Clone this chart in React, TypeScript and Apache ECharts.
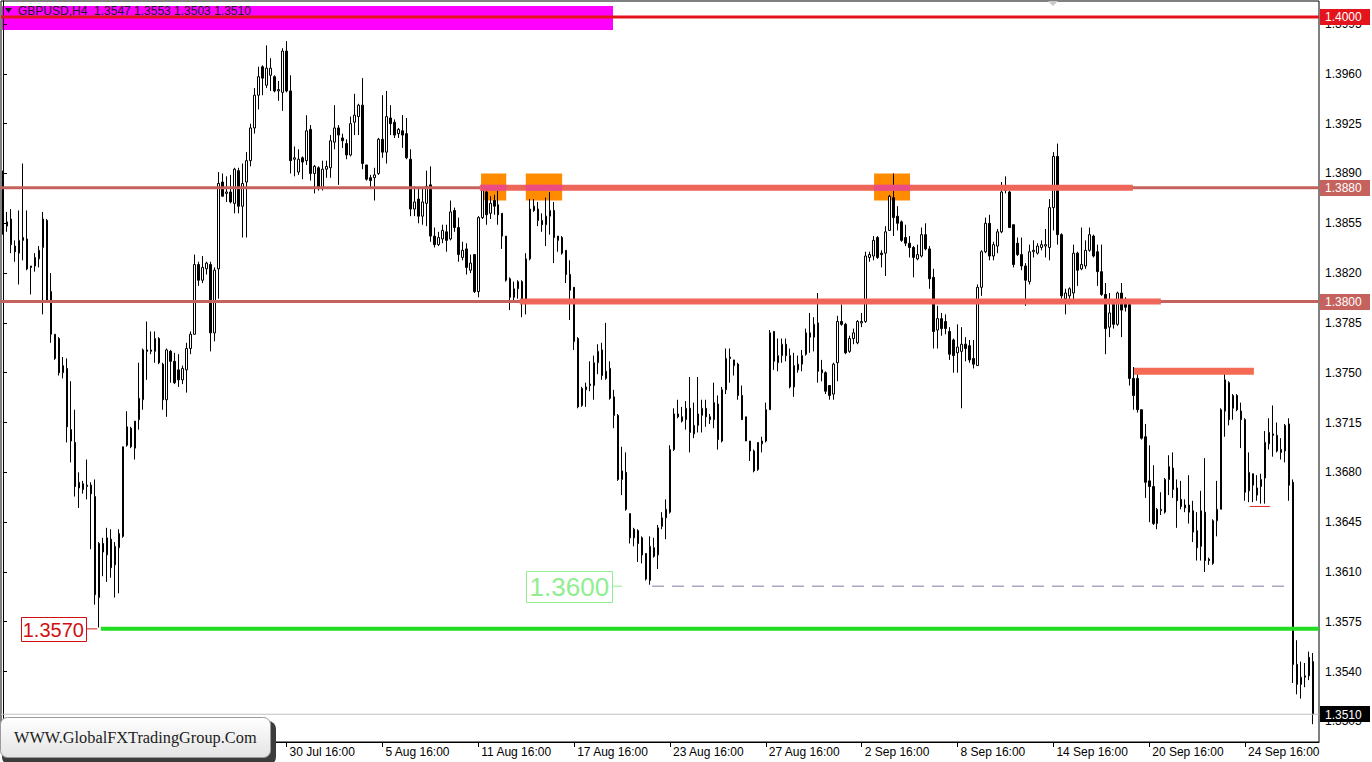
import React, { useEffect, useRef } from 'react';
import * as echarts from 'echarts';

const FONT = '"Liberation Sans", Arial, sans-serif';
const SYMBOL = 'GBPUSD,H4';
const START_UTC = Date.UTC(2021, 6, 14, 20);
const BAR_HOURS = 4;
const MONTHS = ['Jan', 'Feb', 'Mar', 'Apr', 'May', 'Jun', 'Jul', 'Aug', 'Sep', 'Oct', 'Nov', 'Dec'];

// [open, high, low, close]
const ohlc: number[][] = [
  [1.3885, 1.3892, 1.3847, 1.3853], [1.3853, 1.3863, 1.3849, 1.3856], [1.3858, 1.3865, 1.3834, 1.3840], [1.3839, 1.3843, 1.3828, 1.3835],
  [1.3834, 1.3864, 1.3812, 1.3843], [1.3845, 1.3897, 1.3829, 1.3843], [1.3844, 1.3864, 1.3822, 1.3823], [1.3825, 1.3825, 1.3805, 1.3824],
  [1.3825, 1.3834, 1.3821, 1.3831], [1.3830, 1.3839, 1.3824, 1.3836], [1.3838, 1.3863, 1.3791, 1.3858], [1.3857, 1.3858, 1.3799, 1.3800],
  [1.3807, 1.3820, 1.3771, 1.3777], [1.3777, 1.3777, 1.3759, 1.3760], [1.3774, 1.3775, 1.3748, 1.3750], [1.3750, 1.3761, 1.3746, 1.3755],
  [1.3753, 1.3760, 1.3701, 1.3712], [1.3710, 1.3744, 1.3687, 1.3702], [1.3701, 1.3724, 1.3663, 1.3670], [1.3669, 1.3680, 1.3655, 1.3673],
  [1.3672, 1.3674, 1.3665, 1.3668], [1.3670, 1.3689, 1.3661, 1.3671], [1.3671, 1.3673, 1.3626, 1.3665], [1.3663, 1.3675, 1.3587, 1.3594],
  [1.3592, 1.3631, 1.3571, 1.3630], [1.3630, 1.3634, 1.3607, 1.3624], [1.3622, 1.3641, 1.3603, 1.3634], [1.3633, 1.3640, 1.3606, 1.3613],
  [1.3615, 1.3631, 1.3592, 1.3628], [1.3627, 1.3640, 1.3595, 1.3637], [1.3635, 1.3698, 1.3634, 1.3698], [1.3699, 1.3723, 1.3698, 1.3712],
  [1.3711, 1.3712, 1.3697, 1.3698], [1.3697, 1.3716, 1.3689, 1.3716], [1.3717, 1.3757, 1.3710, 1.3732], [1.3731, 1.3767, 1.3724, 1.3766],
  [1.3766, 1.3786, 1.3745, 1.3765], [1.3765, 1.3779, 1.3763, 1.3766], [1.3765, 1.3779, 1.3757, 1.3774], [1.3774, 1.3775, 1.3756, 1.3757],
  [1.3756, 1.3757, 1.3724, 1.3731], [1.3731, 1.3767, 1.3719, 1.3766], [1.3765, 1.3766, 1.3743, 1.3758], [1.3758, 1.3764, 1.3742, 1.3743],
  [1.3752, 1.3763, 1.3740, 1.3745], [1.3745, 1.3755, 1.3742, 1.3753], [1.3752, 1.3771, 1.3736, 1.3767], [1.3767, 1.3779, 1.3763, 1.3777],
  [1.3777, 1.3833, 1.3777, 1.3826], [1.3826, 1.3828, 1.3811, 1.3815], [1.3815, 1.3832, 1.3813, 1.3824], [1.3823, 1.3828, 1.3819, 1.3827],
  [1.3826, 1.3828, 1.3765, 1.3778], [1.3778, 1.3824, 1.3772, 1.3822], [1.3823, 1.3891, 1.3802, 1.3883], [1.3884, 1.3890, 1.3874, 1.3874],
  [1.3876, 1.3888, 1.3870, 1.3877], [1.3877, 1.3889, 1.3869, 1.3870], [1.3869, 1.3894, 1.3862, 1.3893], [1.3892, 1.3894, 1.3862, 1.3867],
  [1.3867, 1.3897, 1.3845, 1.3883], [1.3884, 1.3905, 1.3845, 1.3899], [1.3899, 1.3925, 1.3895, 1.3922], [1.3922, 1.3950, 1.3918, 1.3945],
  [1.3945, 1.3965, 1.3935, 1.3958], [1.3965, 1.3966, 1.3945, 1.3957], [1.3952, 1.3980, 1.3950, 1.3964], [1.3959, 1.3971, 1.3948, 1.3964],
  [1.3958, 1.3959, 1.3947, 1.3948], [1.3948, 1.3955, 1.3941, 1.3949], [1.3947, 1.3978, 1.3934, 1.3976], [1.3976, 1.3983, 1.3947, 1.3948],
  [1.3948, 1.3959, 1.3890, 1.3899], [1.3900, 1.3909, 1.3888, 1.3901], [1.3891, 1.3907, 1.3889, 1.3900], [1.3901, 1.3902, 1.3886, 1.3898],
  [1.3899, 1.3931, 1.3896, 1.3920], [1.3921, 1.3924, 1.3885, 1.3890], [1.3890, 1.3896, 1.3876, 1.3895], [1.3894, 1.3895, 1.3878, 1.3880],
  [1.3880, 1.3899, 1.3878, 1.3893], [1.3893, 1.3899, 1.3887, 1.3895], [1.3894, 1.3917, 1.3887, 1.3913], [1.3912, 1.3938, 1.3907, 1.3922],
  [1.3922, 1.3924, 1.3882, 1.3917], [1.3915, 1.3918, 1.3908, 1.3913], [1.3911, 1.3914, 1.3900, 1.3903], [1.3903, 1.3930, 1.3902, 1.3925],
  [1.3926, 1.3946, 1.3917, 1.3931], [1.3930, 1.3939, 1.3917, 1.3938], [1.3938, 1.3957, 1.3893, 1.3897], [1.3896, 1.3896, 1.3885, 1.3886],
  [1.3887, 1.3889, 1.3880, 1.3885], [1.3887, 1.3894, 1.3871, 1.3889], [1.3890, 1.3915, 1.3889, 1.3914], [1.3914, 1.3945, 1.3901, 1.3905],
  [1.3905, 1.3948, 1.3897, 1.3930], [1.3929, 1.3938, 1.3917, 1.3925], [1.3926, 1.3928, 1.3915, 1.3917], [1.3918, 1.3922, 1.3915, 1.3921],
  [1.3920, 1.3931, 1.3908, 1.3917], [1.3918, 1.3929, 1.3900, 1.3901], [1.3900, 1.3907, 1.3860, 1.3865], [1.3865, 1.3881, 1.3860, 1.3870],
  [1.3872, 1.3880, 1.3855, 1.3860], [1.3860, 1.3880, 1.3854, 1.3870], [1.3869, 1.3892, 1.3853, 1.3881], [1.3882, 1.3895, 1.3842, 1.3846],
  [1.3846, 1.3852, 1.3838, 1.3840], [1.3840, 1.3849, 1.3839, 1.3845], [1.3844, 1.3854, 1.3841, 1.3850], [1.3849, 1.3854, 1.3835, 1.3843],
  [1.3844, 1.3871, 1.3843, 1.3863], [1.3864, 1.3866, 1.3849, 1.3852], [1.3852, 1.3859, 1.3828, 1.3833], [1.3831, 1.3842, 1.3829, 1.3836],
  [1.3837, 1.3841, 1.3819, 1.3824], [1.3822, 1.3833, 1.3820, 1.3827], [1.3833, 1.3833, 1.3806, 1.3807], [1.3807, 1.3860, 1.3803, 1.3859],
  [1.3859, 1.3880, 1.3858, 1.3878], [1.3877, 1.3879, 1.3854, 1.3861], [1.3862, 1.3874, 1.3858, 1.3869], [1.3871, 1.3875, 1.3861, 1.3867],
  [1.3868, 1.3880, 1.3854, 1.3861], [1.3862, 1.3862, 1.3837, 1.3846], [1.3846, 1.3846, 1.3814, 1.3815], [1.3816, 1.3817, 1.3794, 1.3803],
  [1.3803, 1.3814, 1.3800, 1.3809], [1.3809, 1.3815, 1.3802, 1.3814], [1.3814, 1.3815, 1.3789, 1.3800], [1.3800, 1.3834, 1.3791, 1.3830],
  [1.3830, 1.3872, 1.3829, 1.3865], [1.3867, 1.3872, 1.3863, 1.3864], [1.3865, 1.3870, 1.3853, 1.3857], [1.3857, 1.3862, 1.3849, 1.3854],
  [1.3854, 1.3873, 1.3839, 1.3860], [1.3860, 1.3877, 1.3847, 1.3864], [1.3864, 1.3870, 1.3827, 1.3845], [1.3846, 1.3846, 1.3835, 1.3843],
  [1.3845, 1.3846, 1.3833, 1.3834], [1.3836, 1.3836, 1.3813, 1.3819], [1.3819, 1.3829, 1.3787, 1.3808], [1.3810, 1.3810, 1.3766, 1.3772],
  [1.3774, 1.3775, 1.3725, 1.3726], [1.3727, 1.3740, 1.3726, 1.3739], [1.3738, 1.3743, 1.3726, 1.3740], [1.3741, 1.3758, 1.3737, 1.3742],
  [1.3741, 1.3762, 1.3731, 1.3757], [1.3757, 1.3770, 1.3749, 1.3765], [1.3766, 1.3771, 1.3745, 1.3748], [1.3746, 1.3785, 1.3745, 1.3751],
  [1.3753, 1.3758, 1.3731, 1.3732], [1.3733, 1.3738, 1.3711, 1.3720], [1.3720, 1.3721, 1.3674, 1.3675], [1.3675, 1.3698, 1.3664, 1.3681],
  [1.3680, 1.3694, 1.3653, 1.3654], [1.3651, 1.3651, 1.3630, 1.3634], [1.3634, 1.3641, 1.3628, 1.3640], [1.3639, 1.3640, 1.3617, 1.3630],
  [1.3634, 1.3635, 1.3616, 1.3622], [1.3623, 1.3623, 1.3604, 1.3605], [1.3604, 1.3635, 1.3601, 1.3628], [1.3627, 1.3634, 1.3620, 1.3621],
  [1.3622, 1.3643, 1.3612, 1.3641], [1.3642, 1.3652, 1.3640, 1.3648], [1.3648, 1.3661, 1.3633, 1.3654], [1.3652, 1.3699, 1.3651, 1.3696],
  [1.3696, 1.3725, 1.3695, 1.3721], [1.3721, 1.3731, 1.3718, 1.3719], [1.3719, 1.3726, 1.3715, 1.3716], [1.3717, 1.3730, 1.3710, 1.3725],
  [1.3725, 1.3747, 1.3694, 1.3708], [1.3707, 1.3729, 1.3704, 1.3713], [1.3713, 1.3747, 1.3708, 1.3721], [1.3720, 1.3731, 1.3708, 1.3725],
  [1.3725, 1.3731, 1.3712, 1.3719], [1.3719, 1.3721, 1.3714, 1.3717], [1.3717, 1.3743, 1.3711, 1.3729], [1.3728, 1.3734, 1.3696, 1.3703],
  [1.3702, 1.3740, 1.3701, 1.3738], [1.3738, 1.3767, 1.3735, 1.3760], [1.3760, 1.3767, 1.3743, 1.3761], [1.3759, 1.3759, 1.3748, 1.3755],
  [1.3756, 1.3757, 1.3731, 1.3734], [1.3734, 1.3741, 1.3717, 1.3717], [1.3719, 1.3719, 1.3702, 1.3702], [1.3702, 1.3702, 1.3688, 1.3695],
  [1.3695, 1.3696, 1.3680, 1.3681], [1.3682, 1.3701, 1.3681, 1.3701], [1.3700, 1.3705, 1.3694, 1.3702], [1.3702, 1.3729, 1.3701, 1.3724],
  [1.3724, 1.3780, 1.3724, 1.3778], [1.3779, 1.3779, 1.3752, 1.3758], [1.3757, 1.3774, 1.3751, 1.3762], [1.3762, 1.3774, 1.3757, 1.3770],
  [1.3770, 1.3774, 1.3758, 1.3762], [1.3762, 1.3767, 1.3739, 1.3740], [1.3740, 1.3764, 1.3733, 1.3755], [1.3752, 1.3762, 1.3750, 1.3756],
  [1.3756, 1.3766, 1.3751, 1.3762], [1.3763, 1.3781, 1.3762, 1.3778], [1.3778, 1.3792, 1.3764, 1.3775], [1.3775, 1.3789, 1.3765, 1.3784],
  [1.3785, 1.3806, 1.3743, 1.3751], [1.3752, 1.3759, 1.3744, 1.3750], [1.3750, 1.3751, 1.3735, 1.3737], [1.3741, 1.3741, 1.3731, 1.3734],
  [1.3735, 1.3757, 1.3731, 1.3756], [1.3757, 1.3790, 1.3744, 1.3786], [1.3786, 1.3798, 1.3783, 1.3784], [1.3784, 1.3785, 1.3763, 1.3764],
  [1.3765, 1.3776, 1.3764, 1.3774], [1.3774, 1.3781, 1.3770, 1.3778], [1.3771, 1.3787, 1.3770, 1.3786], [1.3785, 1.3792, 1.3782, 1.3786],
  [1.3786, 1.3835, 1.3785, 1.3832], [1.3831, 1.3835, 1.3828, 1.3833], [1.3832, 1.3846, 1.3829, 1.3843], [1.3845, 1.3846, 1.3830, 1.3831],
  [1.3834, 1.3836, 1.3824, 1.3833], [1.3834, 1.3853, 1.3818, 1.3849], [1.3850, 1.3875, 1.3850, 1.3874], [1.3873, 1.3890, 1.3846, 1.3859],
  [1.3860, 1.3867, 1.3850, 1.3855], [1.3856, 1.3857, 1.3842, 1.3843], [1.3845, 1.3854, 1.3839, 1.3841], [1.3841, 1.3846, 1.3831, 1.3838],
  [1.3838, 1.3839, 1.3817, 1.3831], [1.3830, 1.3840, 1.3829, 1.3833], [1.3832, 1.3852, 1.3831, 1.3847], [1.3847, 1.3855, 1.3836, 1.3837],
  [1.3837, 1.3839, 1.3809, 1.3816], [1.3817, 1.3823, 1.3767, 1.3779], [1.3780, 1.3797, 1.3767, 1.3788], [1.3788, 1.3792, 1.3776, 1.3781],
  [1.3786, 1.3791, 1.3777, 1.3781], [1.3779, 1.3782, 1.3759, 1.3763], [1.3773, 1.3774, 1.3750, 1.3762], [1.3764, 1.3784, 1.3750, 1.3768],
  [1.3765, 1.3782, 1.3725, 1.3770], [1.3770, 1.3775, 1.3758, 1.3767], [1.3769, 1.3773, 1.3757, 1.3759], [1.3760, 1.3773, 1.3753, 1.3756],
  [1.3755, 1.3812, 1.3755, 1.3810], [1.3810, 1.3836, 1.3804, 1.3835], [1.3835, 1.3859, 1.3834, 1.3855], [1.3855, 1.3861, 1.3829, 1.3832],
  [1.3832, 1.3842, 1.3829, 1.3840], [1.3839, 1.3851, 1.3834, 1.3849], [1.3849, 1.3884, 1.3848, 1.3877], [1.3878, 1.3888, 1.3876, 1.3879],
  [1.3877, 1.3878, 1.3852, 1.3852], [1.3854, 1.3854, 1.3824, 1.3826], [1.3841, 1.3845, 1.3832, 1.3833], [1.3833, 1.3845, 1.3822, 1.3825],
  [1.3825, 1.3827, 1.3797, 1.3815], [1.3814, 1.3840, 1.3812, 1.3835], [1.3835, 1.3843, 1.3831, 1.3836], [1.3834, 1.3841, 1.3833, 1.3839],
  [1.3838, 1.3843, 1.3836, 1.3840], [1.3839, 1.3851, 1.3831, 1.3840], [1.3838, 1.3872, 1.3829, 1.3866], [1.3866, 1.3905, 1.3850, 1.3902],
  [1.3902, 1.3911, 1.3840, 1.3847], [1.3847, 1.3848, 1.3802, 1.3804], [1.3802, 1.3809, 1.3791, 1.3806], [1.3804, 1.3810, 1.3798, 1.3809],
  [1.3806, 1.3840, 1.3801, 1.3834], [1.3834, 1.3835, 1.3811, 1.3822], [1.3823, 1.3852, 1.3822, 1.3826], [1.3825, 1.3843, 1.3823, 1.3836],
  [1.3836, 1.3852, 1.3835, 1.3847], [1.3846, 1.3847, 1.3831, 1.3832], [1.3835, 1.3840, 1.3811, 1.3821], [1.3821, 1.3840, 1.3804, 1.3805],
  [1.3805, 1.3813, 1.3763, 1.3781], [1.3782, 1.3806, 1.3775, 1.3792], [1.3798, 1.3801, 1.3781, 1.3784], [1.3784, 1.3807, 1.3783, 1.3806],
  [1.3806, 1.3813, 1.3775, 1.3794], [1.3799, 1.3803, 1.3793, 1.3796], [1.3798, 1.3800, 1.3741, 1.3746], [1.3746, 1.3754, 1.3724, 1.3734],
  [1.3746, 1.3752, 1.3722, 1.3724], [1.3724, 1.3724, 1.3703, 1.3704], [1.3705, 1.3714, 1.3662, 1.3673], [1.3674, 1.3699, 1.3645, 1.3670],
  [1.3670, 1.3685, 1.3643, 1.3644], [1.3644, 1.3655, 1.3640, 1.3654], [1.3653, 1.3666, 1.3650, 1.3654], [1.3652, 1.3676, 1.3651, 1.3675],
  [1.3675, 1.3692, 1.3664, 1.3684], [1.3683, 1.3694, 1.3662, 1.3668], [1.3669, 1.3675, 1.3641, 1.3660], [1.3661, 1.3674, 1.3654, 1.3656],
  [1.3657, 1.3661, 1.3652, 1.3655], [1.3657, 1.3678, 1.3644, 1.3652], [1.3653, 1.3660, 1.3631, 1.3638], [1.3639, 1.3652, 1.3618, 1.3627],
  [1.3628, 1.3667, 1.3618, 1.3653], [1.3652, 1.3690, 1.3610, 1.3618], [1.3619, 1.3620, 1.3615, 1.3618], [1.3616, 1.3647, 1.3615, 1.3646],
  [1.3646, 1.3674, 1.3635, 1.3654], [1.3654, 1.3725, 1.3654, 1.3724], [1.3723, 1.3750, 1.3705, 1.3745], [1.3743, 1.3744, 1.3713, 1.3717],
  [1.3725, 1.3735, 1.3717, 1.3734], [1.3734, 1.3735, 1.3723, 1.3724], [1.3723, 1.3729, 1.3697, 1.3717], [1.3717, 1.3718, 1.3660, 1.3666],
  [1.3667, 1.3694, 1.3659, 1.3680], [1.3679, 1.3679, 1.3659, 1.3671], [1.3664, 1.3678, 1.3660, 1.3669], [1.3670, 1.3679, 1.3658, 1.3675],
  [1.3676, 1.3709, 1.3658, 1.3701], [1.3700, 1.3718, 1.3696, 1.3708], [1.3707, 1.3727, 1.3691, 1.3706], [1.3706, 1.3715, 1.3694, 1.3695],
  [1.3696, 1.3704, 1.3689, 1.3694], [1.3695, 1.3714, 1.3687, 1.3713], [1.3714, 1.3718, 1.3660, 1.3671], [1.3673, 1.3675, 1.3532, 1.3545],
  [1.3545, 1.3562, 1.3524, 1.3531], [1.3531, 1.3547, 1.3521, 1.3536], [1.3536, 1.3546, 1.3529, 1.3537], [1.3537, 1.3554, 1.3534, 1.3550],
  [1.3547, 1.3553, 1.3503, 1.3510],
];

const xTickLabels = [
  '30 Jul 16:00', '5 Aug 16:00', '11 Aug 16:00', '17 Aug 16:00', '23 Aug 16:00', '27 Aug 16:00',
  '2 Sep 16:00', '8 Sep 16:00', '14 Sep 16:00', '20 Sep 16:00', '24 Sep 16:00',
];

const yTicks = [1.3505, 1.3540, 1.3575, 1.3610, 1.3645, 1.3680, 1.3715, 1.3750, 1.3785, 1.3820, 1.3855, 1.3890, 1.3925, 1.3960, 1.3995];

// full-width horizontal levels with price tags on the axis
const levelPrices = [1.4000, 1.3880, 1.3800, 1.3510];
const levelKinds = ['resistance', 'level', 'level', 'bid'];

// highlighted zones: [fromBar, toBar, topPrice, bottomPrice]
const zones = [
  [119.7, 126.0, 1.3890, 1.3871],
  [130.9, 140.0, 1.3890, 1.3871],
  [218.1, 227.1, 1.3890, 1.3871],
];

// segments: [fromBar, toBar, price]
const segments = [
  [119.4, 282.9, 1.3880],
  [129.4, 289.9, 1.3800],
  [283.2, 313.2, 1.3751],
  [119.7, 126.0, 1.3880],
  [130.9, 140.0, 1.3880],
  [218.1, 227.1, 1.3880],
  [24.5, 329.5, 1.3570],
  [162.5, 322.2, 1.3600],
  [312.2, 317.2, 1.3656],
  [20.8, 23.6, 1.3570],
  [152.5, 155.0, 1.3600],
];
const segmentKinds = ['thick', 'thick', 'thick2', 'touch', 'touch', 'touch', 'support', 'target', 'mark', 'lead1', 'lead2'];

// price callouts: [centerBar, price]
const callouts = [
  [12.6, 1.3570],
  [141.8, 1.3600],
];
const calloutText = ['1.3570', '1.3600'];

const LEVEL_STYLE: Record<string, any> = {
  resistance: { line: '#E3141C', width: 3, tag: '#E3141C' },
  level: { line: '#C6625E', width: 3, tag: '#C6625E' },
  bid: { line: '#C0C0C0', width: 1, tag: '#000000' },
};
const SEG_STYLE: Record<string, any> = {
  thick: { stroke: '#EE6659', lineWidth: 6 },
  thick2: { stroke: '#F56A55', lineWidth: 7 },
  touch: { stroke: '#EC4C82', lineWidth: 6 },
  support: { stroke: '#22DD22', lineWidth: 4 },
  target: { stroke: '#7C7CA8', lineWidth: 1, lineDash: [12, 8] },
  mark: { stroke: '#E02828', lineWidth: 1 },
  lead1: { stroke: '#C82020', lineWidth: 1 },
  lead2: { stroke: '#90EE90', lineWidth: 1 },
};
const CALLOUT_STYLE = [
  { color: '#D01010', w: 65, h: 24, size: 20 },
  { color: '#90EE90', w: 86, h: 31, size: 26 },
];
const TAG = { w: 50, h: 16, size: 12 };

function buildCategories(n: number): string[] {
  const out: string[] = [];
  let t = START_UTC;
  while (out.length < n) {
    const d = new Date(t);
    const wd = d.getUTCDay();
    if (wd !== 0 && wd !== 6) {
      out.push(`${d.getUTCDate()} ${MONTHS[d.getUTCMonth()]} ${String(d.getUTCHours()).padStart(2, '0')}:00`);
    }
    t += BAR_HOURS * 3600 * 1000;
  }
  return out;
}

export default function App() {
  const ref = useRef<HTMLDivElement>(null);

  useEffect(() => {
    if (!ref.current) return;
    const chart = echarts.init(ref.current, null, { renderer: 'svg' });
    const categories = buildCategories(ohlc.length + 1);
    const xMin = -0.5;
    const xMax = categories.length - 0.5;
    const tickSet = new Set(xTickLabels);
    const last = ohlc[ohlc.length - 1];
    const header = `${SYMBOL}  ${last.map((v) => v.toFixed(4)).join(' ')}`;
    const candleData = ohlc.map(([o, h, l, c]) => [o, c, Math.min(l, o, c), Math.max(h, o, c)]);

    const option: any = {
      animation: false,
      backgroundColor: '#ffffff',
      grid: {
        left: 1, top: 1, width: 1318, height: 741,
        show: true, borderColor: '#000', borderWidth: 1, backgroundColor: 'transparent',
        containLabel: false, outerBoundsMode: 'none',
      },
      xAxis: [
        {
          type: 'category',
          data: categories,
          boundaryGap: true,
          axisLine: { show: true, lineStyle: { color: '#000', width: 1 } },
          axisTick: {
            show: true, alignWithLabel: true, length: 5,
            interval: (_i: number, v: string) => tickSet.has(v),
            lineStyle: { color: '#000' },
          },
          axisLabel: {
            interval: (_i: number, v: string) => tickSet.has(v),
            align: 'left', color: '#000', fontSize: 12, fontFamily: FONT,
            margin: 4, padding: [0, 0, 0, 3],
          },
          splitLine: { show: false },
        },
        { type: 'value', min: xMin, max: xMax, show: false },
      ],
      yAxis: [
        {
          type: 'value', position: 'right', min: 1.34905, max: 1.40112, scale: true,
          splitLine: { show: false },
          axisLine: { show: true, lineStyle: { color: '#000', width: 1 } },
          axisTick: { show: true, customValues: yTicks, length: 4, lineStyle: { color: '#000' } },
          axisLabel: {
            customValues: yTicks, color: '#000', fontSize: 12, fontFamily: FONT, margin: 6,
            formatter: (v: number) => v.toFixed(4),
          },
        },
      ],
      series: [
        {
          type: 'custom', name: 'zones', xAxisIndex: 1, yAxisIndex: 0, z: 1, silent: true,
          data: zones.map((z) => [z[0], z[2], z[1], z[3]]),
          encode: { x: [0, 2], y: [1, 3] },
          renderItem: (params: any, api: any) => {
            const z = zones[params.dataIndex];
            const p1 = api.coord([z[0], z[2]]);
            const p2 = api.coord([z[1], z[3]]);
            return {
              type: 'rect',
              shape: { x: p1[0], y: p1[1], width: p2[0] - p1[0], height: p2[1] - p1[1] },
              style: { fill: '#FF8C00' },
            };
          },
        },
        {
          type: 'candlestick', name: SYMBOL, xAxisIndex: 0, yAxisIndex: 0, z: 2,
          data: candleData,
          barWidth: 2,
          itemStyle: {
            color: '#ffffff', color0: '#000000',
            borderColor: '#000000', borderColor0: '#000000', borderColorDoji: '#000000',
            borderWidth: 1,
          },
        },
        {
          type: 'custom', name: 'levels', xAxisIndex: 1, yAxisIndex: 0, z: 3, silent: true,
          data: levelPrices.map((p) => [xMin, p, xMax]),
          encode: { x: [0, 2], y: 1 },
          renderItem: (params: any, api: any) => {
            const p = levelPrices[params.dataIndex];
            const st = LEVEL_STYLE[levelKinds[params.dataIndex]];
            const a = api.coord([xMin, p]);
            const b = api.coord([xMax, p]);
            const tagX = Math.round(b[0]) + 1;
            const tagY = Math.round(b[1] - TAG.h / 2);
            return {
              type: 'group',
              children: [
                {
                  type: 'line',
                  shape: { x1: a[0], y1: a[1], x2: b[0], y2: b[1] },
                  style: { stroke: st.line, lineWidth: st.width },
                },
                {
                  type: 'rect', z2: 10,
                  shape: { x: tagX, y: tagY, width: TAG.w, height: TAG.h },
                  style: { fill: st.tag },
                },
                {
                  type: 'text', z2: 11,
                  style: {
                    text: p.toFixed(4), x: tagX + 5, y: b[1] + 0.5,
                    verticalAlign: 'middle', fill: '#ffffff', font: `${TAG.size}px ${FONT}`,
                  },
                },
              ],
            };
          },
        },
        {
          type: 'custom', name: 'segments', xAxisIndex: 1, yAxisIndex: 0, z: 4, silent: true,
          data: segments.map((s) => [s[0], s[2], s[1]]),
          encode: { x: [0, 2], y: 1 },
          renderItem: (params: any, api: any) => {
            const s = segments[params.dataIndex];
            const st = SEG_STYLE[segmentKinds[params.dataIndex]];
            const p1 = api.coord([s[0], s[2]]);
            const p2 = api.coord([s[1], s[2]]);
            return {
              type: 'line',
              shape: { x1: p1[0], y1: p1[1], x2: p2[0], y2: p2[1] },
              style: { stroke: st.stroke, lineWidth: st.lineWidth, lineDash: st.lineDash || null },
            };
          },
        },
        {
          type: 'custom', name: 'callouts', xAxisIndex: 1, yAxisIndex: 0, z: 5, silent: true,
          data: callouts.map((c) => [c[0], c[1]]),
          encode: { x: 0, y: 1 },
          renderItem: (params: any, api: any) => {
            const c = callouts[params.dataIndex];
            const st = CALLOUT_STYLE[params.dataIndex];
            const p = api.coord([c[0], c[1]]);
            return {
              type: 'group',
              children: [
                {
                  type: 'rect',
                  shape: { x: Math.round(p[0] - st.w / 2) + 0.5, y: Math.round(p[1] - st.h / 2) + 0.5, width: st.w, height: st.h },
                  style: { fill: '#ffffff', stroke: st.color, lineWidth: 1 },
                },
                {
                  type: 'text',
                  style: {
                    text: calloutText[params.dataIndex], x: p[0], y: p[1] + 1,
                    align: 'center', verticalAlign: 'middle', fill: st.color,
                    font: `${st.size}px ${FONT}`,
                  },
                },
              ],
            };
          },
        },
      ],
      graphic: {
        elements: [
          { type: 'rect', z: 0, silent: true, shape: { x: 2, y: 6, width: 611, height: 24 }, style: { fill: '#FF00FF' } },
          { type: 'polygon', z: 50, silent: true, shape: { points: [[5, 8], [12, 8], [8.5, 13]] }, style: { fill: '#202020' } },
          {
            type: 'text', z: 50, silent: true,
            style: { text: header, x: 18, y: 11, verticalAlign: 'middle', fill: '#202020', font: `12px ${FONT}` },
          },
          { type: 'polygon', z: 50, silent: true, shape: { points: [[1048, 1], [1058, 1], [1053, 6]] }, style: { fill: '#C8C8C8' } },
          { type: 'rect', z: 100, silent: true, shape: { x: 2, y: 721, width: 274, height: 44, r: 8 }, style: { fill: '#3c3c3c' } },
          {
            type: 'rect', z: 101, silent: true, shape: { x: 0.5, y: 717.5, width: 270, height: 40, r: 7 },
            style: {
              fill: new echarts.graphic.LinearGradient(0, 0, 0, 1, [
                { offset: 0, color: '#ffffff' }, { offset: 1, color: '#e4e4e4' },
              ]),
              stroke: '#9a9a9a', lineWidth: 1,
            },
          },
          {
            type: 'text', z: 102, silent: true,
            x: 14, y: 737, scaleX: 0.96,
            style: {
              text: 'WWW.GlobalFXTradingGroup.Com', x: 0, y: 0, verticalAlign: 'middle',
              fill: '#1c1c1c', font: '17px "Liberation Serif", "Times New Roman", serif',
            },
          },
        ],
      },
    };

    chart.setOption(option);
    return () => chart.dispose();
  }, []);

  return (
    <div
      ref={ref}
      style={{ position: 'fixed', left: 0, top: 0, width: 1372, height: 762, background: '#fff' }}
    />
  );
}
